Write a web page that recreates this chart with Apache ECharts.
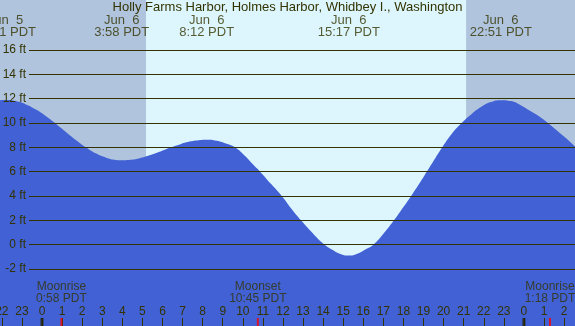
<!DOCTYPE html>
<html>
<head>
<meta charset="utf-8">
<script src="https://cdn.jsdelivr.net/npm/echarts@6/dist/echarts.min.js"></script>
<style>
  html, body { margin: 0; padding: 0; }
  #chart { width: 575px; height: 326px; }
</style>
</head>
<body>
<div id="chart"></div>
<script>
// tide height curve (hours from Jun 6 00:00, feet)
const tideHours = [-2.3, -1.82, -1.3, -0.8, -0.3, 0.2, 0.7, 1.2, 1.7, 2.2, 2.7, 3.2, 3.6, 3.97,
  4.4, 4.9, 5.4, 5.9, 6.4, 6.9, 7.4, 7.8, 8.2,
  8.7, 9.2, 9.61, 10.1, 10.5, 10.86, 11.4, 11.94, 12.4, 12.9, 13.45, 14.0, 14.5, 14.9, 15.28,
  15.7, 16.1, 16.5, 17.0, 17.5, 18.0, 18.4, 18.8, 19.2, 19.6, 19.95, 20.4, 20.9, 21.4, 21.9, 22.35, 22.85,
  23.35, 23.8, 24.3, 24.8, 25.2, 25.7, 26.2, 26.7];
const tideFeet = [11.82, 11.9, 11.8, 11.53, 11.1, 10.55, 9.92, 9.25, 8.59, 7.99, 7.49, 7.15, 6.98, 6.93,
  6.97, 7.13, 7.37, 7.66, 7.98, 8.26, 8.49, 8.59, 8.63,
  8.55, 8.3, 8.0, 7.3, 6.6, 6.0, 5.0, 4.0, 3.0, 2.0, 1.0, 0.1, -0.45, -0.78, -0.9,
  -0.75, -0.4, 0.0, 0.9, 1.95, 3.1, 4.05, 5.05, 6.1, 7.15, 8.05, 9.1, 10.0, 10.75, 11.35, 11.72, 11.88,
  11.8, 11.5, 11.0, 10.5, 10.0, 9.3, 8.6, 7.8];

// high / low tide labels
const tideEventHours = [-1.82, 3.97, 8.2, 15.28, 22.85];
const tideEventLabels = ['Jun  5\n22:11 PDT', 'Jun  6\n3:58 PDT', 'Jun  6\n8:12 PDT', 'Jun  6\n15:17 PDT', 'Jun  6\n22:51 PDT'];

// moon events
const moonHours = [0.967, 10.75, 25.3];
const moonLabels = ['Moonrise\n0:58 PDT', 'Moonset\n10:45 PDT', 'Moonrise\n1:18 PDT'];

// sun
const sunriseHour = 5.18;
const sunsetHour = 21.12;
const midnightHours = [0, 24];

// axis ranges
const hourMin = -3;
const hourMax = 27;
const feetMin = -2;
const feetMax = 16;
const feetStep = 2;

const title = 'Holly Farms Harbor, Holmes Harbor, Whidbey I., Washington';

// layout
const W = 575, H = 326;
const zeroX = 42, hourPx = 20.08;
const plotTop = 50, plotBottom = 57, plotLeft = 29;
const pxPerFt = (H - plotTop - plotBottom) / (feetMax - feetMin);
const yTop = feetMax + plotTop / pxPerFt;
const yBottom = feetMin - plotBottom / pxPerFt;
const textColor = '#333300';
const font = 'Liberation Sans';

const chart = echarts.init(document.getElementById('chart'));

const option = {
  animation: false,
  backgroundColor: '#DDF6FD',
  textStyle: { fontFamily: font },
  title: {
    text: title,
    left: 'center',
    top: 1,
    padding: 0,
    textStyle: { fontFamily: font, fontSize: 13, fontWeight: 'normal', color: textColor }
  },
  grid: [
    {
      left: zeroX + hourMin * hourPx,
      right: W - (zeroX + hourMax * hourPx),
      top: 0,
      bottom: 0,
      containLabel: false,
      outerBoundsMode: 'none'
    },
    {
      left: plotLeft, right: 0, top: plotTop, bottom: plotBottom,
      containLabel: false,
      outerBoundsMode: 'none'
    }
  ],
  xAxis: [
    {
      type: 'value',
      gridIndex: 0,
      min: hourMin,
      max: hourMax,
      interval: 1,
      z: 5,
      axisLine: { show: false, onZero: false },
      splitLine: { show: false },
      axisTick: { inside: true, length: 8, lineStyle: { color: textColor } },
      axisLabel: {
        inside: true,
        margin: 8,
        fontSize: 12,
        color: textColor,
        fontFamily: font,
        showMinLabel: true,
        showMaxLabel: true,
        formatter: v => String(((v % 24) + 24) % 24)
      }
    },
    { type: 'value', gridIndex: 1, min: 0, max: 1, show: false }
  ],
  yAxis: [
    { type: 'value', gridIndex: 0, min: yBottom, max: yTop, show: false },
    {
      type: 'value',
      gridIndex: 1,
      min: feetMin,
      max: feetMax,
      interval: feetStep,
      z: 5,
      axisLine: { show: false },
      axisTick: { show: false },
      splitLine: { lineStyle: { color: textColor, width: 1 } },
      axisLabel: {
        margin: 3,
        fontSize: 12,
        color: textColor,
        fontFamily: font,
        formatter: '{value} ft'
      }
    }
  ],
  series: [
    {
      // night shading
      type: 'line',
      xAxisIndex: 0,
      yAxisIndex: 0,
      data: [],
      z: 1,
      markArea: {
        silent: true,
        itemStyle: { color: '#B0C4DE' },
        data: [
          [{ xAxis: hourMin }, { xAxis: sunriseHour }],
          [{ xAxis: sunsetHour }, { xAxis: hourMax }]
        ]
      }
    },
    {
      name: 'tide',
      type: 'line',
      xAxisIndex: 0,
      yAxisIndex: 0,
      z: 2,
      smooth: 0.5,
      symbol: 'none',
      lineStyle: { width: 0 },
      areaStyle: { color: '#4161D5', opacity: 1, origin: 'start' },
      data: tideHours.map((h, i) => [h, tideFeet[i]])
    },
    {
      // high / low labels at the top
      type: 'scatter',
      xAxisIndex: 0,
      yAxisIndex: 0,
      z: 6,
      symbolSize: 1,
      clip: false,
      itemStyle: { color: 'rgba(0,0,0,0)' },
      label: {
        show: true,
        position: 'inside',
        fontSize: 13,
        lineHeight: 12,
        color: textColor,
        fontFamily: font,
        formatter: p => tideEventLabels[p.dataIndex]
      },
      data: tideEventHours.map(h => [h, yTop - 26 / pxPerFt])
    },
    {
      // moon labels
      type: 'scatter',
      xAxisIndex: 0,
      yAxisIndex: 0,
      z: 6,
      symbolSize: 1,
      clip: false,
      itemStyle: { color: 'rgba(0,0,0,0)' },
      label: {
        show: true,
        position: 'inside',
        fontSize: 12,
        lineHeight: 12,
        color: textColor,
        fontFamily: font,
        formatter: p => moonLabels[p.dataIndex]
      },
      data: moonHours.map(h => [h, yTop - 293 / pxPerFt])
    },
    {
      // moon ticks
      type: 'scatter',
      xAxisIndex: 0,
      yAxisIndex: 0,
      z: 6,
      clip: false,
      symbol: 'rect',
      symbolSize: [2, 8],
      symbolOffset: [0, -4],
      itemStyle: { color: '#FF0000' },
      data: moonHours.map(h => [h, yBottom])
    },
    {
      // midnight ticks
      type: 'scatter',
      xAxisIndex: 0,
      yAxisIndex: 0,
      z: 6,
      clip: false,
      symbol: 'rect',
      symbolSize: [3, 8],
      symbolOffset: [0, -4],
      itemStyle: { color: '#222200' },
      data: midnightHours.map(h => [h, yBottom])
    }
  ]
};

chart.setOption(option);
</script>
</body>
</html>
